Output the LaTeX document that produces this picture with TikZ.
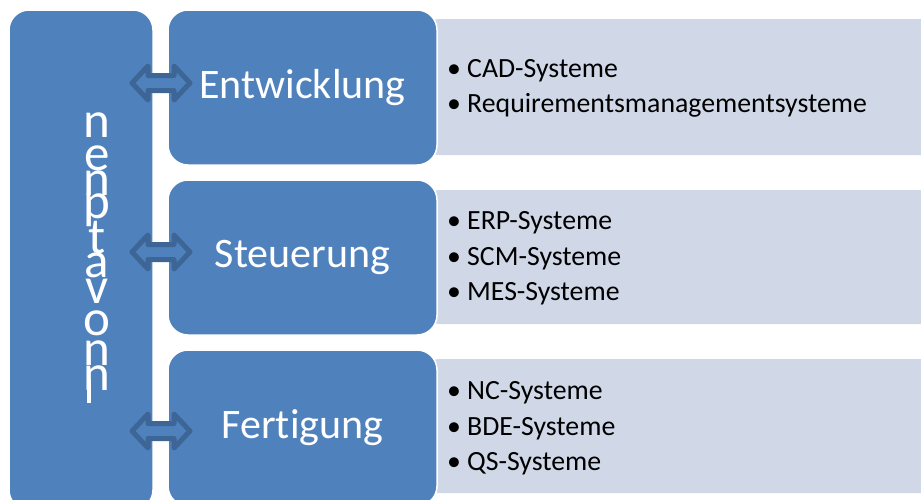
\documentclass[tikz,border=0pt]{standalone}
\usepackage{fontspec}
\setmainfont{Carlito}[Ligatures=NoCommon]
\definecolor{boxblue}{HTML}{4F81BD}
\definecolor{boxgray}{HTML}{D0D8E8}
\definecolor{arrowblue}{HTML}{3D6595}
\tikzset{
  bluebox/.style={fill=boxblue, draw=white, line width=1.5pt, rounded corners=20pt},
  graybox/.style={fill=boxgray, draw=none, rounded corners=20pt},
  biglabel/.style={text=white, font=\fontsize{42}{50}\selectfont, inner sep=0pt},
  vletter/.style={text=white, font=\fontsize{51}{51}\selectfont, inner sep=0pt, anchor=base},
  itemtext/.style={text=black, font=\fontsize{27.8}{33}\selectfont, inner sep=0pt, anchor=base west},
  dblarrow/.style={draw=arrowblue, fill=boxblue, line width=5pt, line join=round}
}
\newcommand{\itm}[1]{\makebox[20pt][l]{•}#1}
\newcommand{\dblarrowpath}[2]{%
  \filldraw[dblarrow] (#1-29,#2) -- (#1-13,#2-17) -- (#1-13,#2-7.5) -- (#1+13,#2-7.5)
    -- (#1+13,#2-17) -- (#1+29,#2) -- (#1+13,#2+17) -- (#1+13,#2+7.5)
    -- (#1-13,#2+7.5) -- (#1-13,#2+17) -- cycle;}
\begin{document}
\begin{tikzpicture}[x=1pt, y=-1pt]
\clip (0,0) rectangle (921,499);
\fill[white] (0,0) rectangle (921,499);
% gray panels
\path[graybox] (420,19) rectangle (960,155);
\path[graybox] (420,190) rectangle (960,324);
\path[graybox] (420,359) rectangle (960,493);
% left bar
\path[bluebox] (9,10) rectangle (153,510);
% middle boxes
\path[bluebox] (168,10) rectangle (437,165);
\path[bluebox] (168,180) rectangle (437,335);
\path[bluebox] (168,350) rectangle (437,506);
\node[biglabel] (ent) at (302.5,87.5) {Entwicklung};
\node[biglabel] (ste) at (302.5,257.5) {Steuerung};
\node[biglabel] (fer) at (302.5,428) {Fertigung};
% vertical letters
\node[vletter] (v1) at (97,137) {n};
\node[vletter] (v2) at (97,170) {e};
\node[vletter] (v3) at (97,195) {n};
\node[vletter] (v4) at (97,218) {p};
\node[vletter] (v5) at (97,253) {t};
\node[vletter] (v6) at (97,277) {a};
\node[vletter] (v7) at (97,303) {v};
\node[vletter] (v8) at (97,335) {o};
\node[vletter] (v9) at (97,365) {n};
\node[vletter] (v10) at (97,390) {n};
\draw[white, line width=4pt] (89,380) -- (89,403);
% arrows
\dblarrowpath{161}{83}
\dblarrowpath{161}{252}
\dblarrowpath{161}{431}
% items
\node[itemtext] (i1) at (447,77) {\itm{CAD-Systeme}};
\node[itemtext] (i2) at (447,112) {\itm{Requirementsmanagementsysteme}};
\node[itemtext] (i3) at (447,229) {\itm{ERP-Systeme}};
\node[itemtext] (i4) at (447,265) {\itm{SCM-Systeme}};
\node[itemtext] (i5) at (447,300) {\itm{MES-Systeme}};
\node[itemtext] (i6) at (447,399) {\itm{NC-Systeme}};
\node[itemtext] (i7) at (447,435) {\itm{BDE-Systeme}};
\node[itemtext] (i8) at (447,470) {\itm{QS-Systeme}};
\end{tikzpicture}
\end{document}
